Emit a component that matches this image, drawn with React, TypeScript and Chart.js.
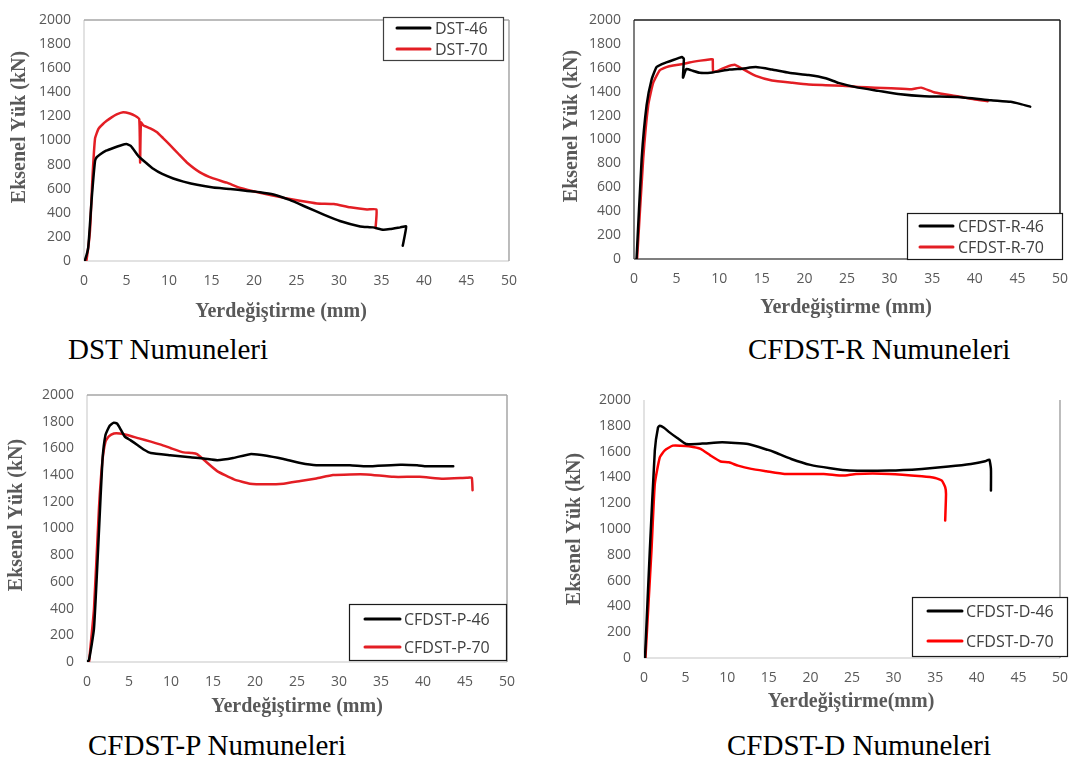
import React, { useEffect, useRef } from 'react';
import { Chart, registerables } from 'chart.js';

Chart.register(...registerables);

// ---------- tick values ----------
const xTickValues = [0, 5, 10, 15, 20, 25, 30, 35, 40, 45, 50];
const yTickValues = [0, 200, 400, 600, 800, 1000, 1200, 1400, 1600, 1800, 2000];

// ---------- DST ----------
const dst46X = [0, 0.12, 0.5, 0.9, 1.3, 1.5, 1.88, 2.6, 3.45, 4.3, 5.0, 5.5, 6.4, 7.3, 8.15, 9.2, 10.5, 11.7, 13.3, 15.2, 17.2, 19.0, 20.7, 22.3, 24.2, 26.2, 28.2, 30.1, 32.5, 34.0, 35.2, 36.0, 37.2, 37.9, 37.5];
const dst46Y = [0, 8, 114, 512, 831, 862, 884, 915, 938, 958, 970, 955, 871, 815, 765, 722, 685, 659, 632, 610, 598, 583, 571, 552, 507, 446, 385, 332, 287, 279, 260, 265, 279, 287, 127];
const dst70X = [0.2, 0.3, 0.7, 1.0, 1.3, 1.7, 2.2, 2.67, 3.2, 3.84, 4.6, 5.4, 6.0, 6.5, 6.6, 6.7, 7.0, 7.8, 8.55, 9.3, 10.1, 11.1, 12.1, 13.6, 15.2, 16.8, 18.4, 20.7, 23.4, 25.4, 27.4, 29.4, 31.3, 33.3, 34.4, 34.3];
const dst70Y = [0, 8, 247, 699, 1017, 1097, 1135, 1163, 1190, 1217, 1235, 1224, 1205, 1177, 818, 1150, 1124, 1100, 1070, 1020, 964, 890, 818, 738, 685, 650, 606, 566, 526, 500, 478, 473, 446, 428, 428, 273];

// ---------- CFDST-R ----------
const r46X = [0.3, 0.9, 1.48, 2.06, 2.64, 3.2, 3.8, 4.6, 5.36, 5.6, 5.85, 5.75, 6.14, 6.9, 7.7, 9.2, 11.2, 12.7, 14.3, 16.2, 18.2, 20.5, 22.5, 24.0, 26.3, 28.7, 31.0, 34.1, 38.0, 41.9, 44.2, 45.4, 46.5];
const r46Y = [0, 839, 1288, 1500, 1606, 1628, 1645, 1665, 1685, 1690, 1675, 1518, 1590, 1575, 1558, 1561, 1585, 1593, 1606, 1585, 1558, 1540, 1513, 1474, 1434, 1407, 1381, 1362, 1355, 1328, 1315, 1296, 1275];
const r70X = [0.36, 1.08, 1.67, 2.25, 3.03, 3.8, 4.6, 5.75, 6.5, 7.8, 9.05, 9.24, 9.3, 10.0, 10.8, 11.8, 12.7, 14.3, 16.2, 18.6, 20.5, 22.5, 24.5, 26.3, 28.3, 30.2, 32.6, 33.7, 35.3, 38.0, 39.9, 41.5];
const r70Y = [0, 839, 1288, 1474, 1579, 1606, 1620, 1632, 1645, 1660, 1672, 1672, 1566, 1580, 1606, 1625, 1593, 1532, 1494, 1474, 1460, 1455, 1450, 1440, 1434, 1429, 1421, 1434, 1394, 1362, 1336, 1320];

// ---------- CFDST-P ----------
const p46X = [0, 0.24, 0.83, 1.43, 1.83, 2.2, 2.7, 3.2, 3.6, 3.9, 4.5, 5.2, 6.0, 6.8, 7.6, 9.9, 12.3, 13.9, 15.5, 17.4, 19.4, 21.4, 23.4, 25.4, 27.3, 31.3, 33.3, 37.3, 39.3, 40.4, 43.6];
const p46Y = [0, 15, 249, 986, 1503, 1700, 1770, 1793, 1785, 1754, 1688, 1660, 1626, 1590, 1565, 1548, 1533, 1525, 1512, 1528, 1557, 1545, 1520, 1491, 1474, 1474, 1466, 1478, 1474, 1466, 1466];
const p70X = [0.24, 0.83, 1.43, 1.83, 2.2, 2.6, 3.2, 3.9, 4.8, 6.2, 7.6, 8.8, 10.0, 11.5, 12.5, 13.1, 13.9, 15.5, 17.5, 19.4, 21.4, 23.4, 25.4, 27.3, 29.3, 31.3, 33.3, 36.5, 39.6, 42.4, 45.2, 45.8, 45.9];
const p70Y = [0, 396, 1159, 1503, 1651, 1690, 1712, 1712, 1700, 1675, 1651, 1628, 1601, 1570, 1565, 1557, 1515, 1430, 1368, 1336, 1331, 1336, 1356, 1375, 1400, 1405, 1405, 1387, 1387, 1373, 1380, 1380, 1287];

// ---------- CFDST-D ----------
const d46X = [0.12, 0.7, 1.3, 1.69, 1.9, 2.4, 3.07, 4.0, 5.05, 7.0, 9.4, 12.5, 14.9, 15.7, 17.7, 20.0, 22.4, 24.7, 29.5, 33.4, 36.6, 39.3, 41.0, 41.5, 41.7, 41.7];
const d46Y = [0, 834, 1608, 1788, 1801, 1785, 1749, 1705, 1659, 1662, 1672, 1659, 1613, 1595, 1543, 1497, 1471, 1453, 1453, 1466, 1484, 1504, 1525, 1538, 1466, 1298];
const d70X = [0.17, 0.9, 1.3, 1.9, 2.5, 3.46, 4.4, 5.4, 6.8, 8.0, 9.2, 10.2, 11.3, 12.9, 14.7, 16.9, 21.6, 23.9, 25.5, 29.5, 33.4, 35.0, 35.8, 36.2, 36.3, 36.2];
const d70Y = [0, 834, 1350, 1556, 1610, 1646, 1646, 1641, 1621, 1569, 1523, 1517, 1491, 1466, 1448, 1427, 1427, 1414, 1427, 1427, 1409, 1396, 1375, 1324, 1272, 1066];

const yTitle = 'Eksenel Yük (kN)';

type Series = { label: string; x: number[]; y: number[]; color: string };
type Side = string | null;
type PanelCfg = {
  left: number; top: number; w: number; h: number;
  padTop: number; padRight: number; yWidth: number; xHeight: number;
  series: Series[];
  xTitle: string;
  yTitlePos: [number, number];
  xTitlePos: [number, number];
  frame: { top: Side; right: Side; bottom: Side; left: Side; width: number };
  legend: { x: number; y: number; w: number; h: number; l1: number; l2: number; tx: number; rows: number[]; border: string };
};

const BLACK = '#000000';
const RED = '#e31e24';

const panels: PanelCfg[] = [
  {
    left: 0, top: 0, w: 530, h: 330, padTop: 10, padRight: 21, yWidth: 84, xHeight: 69,
    series: [
      { label: 'DST-46', x: dst46X, y: dst46Y, color: BLACK },
      { label: 'DST-70', x: dst70X, y: dst70Y, color: RED },
    ],
    xTitle: 'Yerdeğiştirme (mm)', yTitlePos: [20, 127], xTitlePos: [281, 312],
    frame: { top: '#a6a6a6', right: '#a6a6a6', bottom: '#d9d9d9', left: '#d9d9d9', width: 1.5 },
    legend: { x: 383, y: 17, w: 120, h: 43, l1: 397, l2: 430, tx: 435, rows: [28, 49], border: '#404040' },
  },
  {
    left: 550, top: 0, w: 531, h: 330, padTop: 7, padRight: 18, yWidth: 84, xHeight: 71,
    series: [
      { label: 'CFDST-R-46', x: r46X, y: r46Y, color: BLACK },
      { label: 'CFDST-R-70', x: r70X, y: r70Y, color: RED },
    ],
    xTitle: 'Yerdeğiştirme (mm)', yTitlePos: [22, 126], xTitlePos: [296, 308],
    frame: { top: '#1a1a1a', right: '#1a1a1a', bottom: '#555555', left: '#555555', width: 1.5 },
    legend: { x: 357, y: 213, w: 155, h: 46, l1: 370, l2: 403, tx: 408, rows: [226, 247], border: '#1a1a1a' },
  },
  {
    left: 0, top: 375, w: 530, h: 350, padTop: 16, padRight: 23, yWidth: 87, xHeight: 63,
    series: [
      { label: 'CFDST-P-46', x: p46X, y: p46Y, color: BLACK },
      { label: 'CFDST-P-70', x: p70X, y: p70Y, color: RED },
    ],
    xTitle: 'Yerdeğiştirme (mm)', yTitlePos: [17, 140], xTitlePos: [297, 332],
    frame: { top: '#a6a6a6', right: '#a6a6a6', bottom: '#d9d9d9', left: '#d9d9d9', width: 1.5 },
    legend: { x: 349, y: 229, w: 157, h: 56, l1: 365, l2: 400, tx: 404, rows: [244, 272], border: '#1a1a1a' },
  },
  {
    left: 550, top: 380, w: 531, h: 345, padTop: 19, padRight: 14, yWidth: 94, xHeight: 67,
    series: [
      { label: 'CFDST-D-46', x: d46X, y: d46Y, color: BLACK },
      { label: 'CFDST-D-70', x: d70X, y: d70Y, color: '#ff0000' },
    ],
    xTitle: 'Yerdeğiştirme(mm)', yTitlePos: [25, 149], xTitlePos: [301, 322],
    frame: { top: null, right: '#a6a6a6', bottom: '#d9d9d9', left: '#d9d9d9', width: 1.5 },
    legend: { x: 362, y: 217, w: 155, h: 59, l1: 378, l2: 412, tx: 416, rows: [231, 261], border: '#1a1a1a' },
  },
];

const captions = [
  { text: 'DST Numuneleri', left: 68, top: 335 },
  { text: 'CFDST-R Numuneleri', left: 748, top: 335 },
  { text: 'CFDST-P Numuneleri', left: 88, top: 731 },
  { text: 'CFDST-D Numuneleri', left: 727, top: 731 },
];

const tickFont = { family: "'Open Sans', 'DejaVu Sans', sans-serif", size: 14, lineHeight: 1 };
const tickColor = '#595959';
const plainLabel = (v: any) => String(v);

function PanelChart({ cfg }: { cfg: PanelCfg }) {
  const ref = useRef<HTMLCanvasElement>(null);
  useEffect(() => {
    const frame = {
      id: 'plotFrame',
      beforeDatasetsDraw(chart: any) {
        const { ctx, chartArea: a } = chart;
        const f = cfg.frame;
        ctx.save();
        ctx.lineWidth = f.width;
        const seg = (c: Side, x1: number, y1: number, x2: number, y2: number) => {
          if (!c) return;
          ctx.strokeStyle = c;
          ctx.beginPath();
          ctx.moveTo(x1, y1);
          ctx.lineTo(x2, y2);
          ctx.stroke();
        };
        seg(f.left, a.left, a.top, a.left, a.bottom);
        seg(f.bottom, a.left, a.bottom, a.right, a.bottom);
        seg(f.top, a.left, a.top, a.right, a.top);
        seg(f.right, a.right, a.top, a.right, a.bottom);
        ctx.restore();
      },
    };
    const boxLegend = {
      id: 'boxLegend',
      afterDraw(chart: any) {
        const { ctx } = chart;
        const L = cfg.legend;
        ctx.save();
        ctx.fillStyle = '#ffffff';
        ctx.fillRect(L.x, L.y, L.w, L.h);
        ctx.strokeStyle = L.border;
        ctx.lineWidth = 1.2;
        ctx.strokeRect(L.x + 0.5, L.y + 0.5, L.w, L.h);
        chart.data.datasets.forEach((ds: any, i: number) => {
          const y = L.rows[i];
          ctx.strokeStyle = ds.borderColor;
          ctx.lineWidth = 3;
          ctx.lineCap = 'round';
          ctx.beginPath();
          ctx.moveTo(L.l1, y);
          ctx.lineTo(L.l2, y);
          ctx.stroke();
          ctx.fillStyle = '#404040';
          ctx.font = "16px 'Open Sans', sans-serif";
          ctx.textAlign = 'left';
          ctx.textBaseline = 'middle';
          ctx.fillText(ds.label, L.tx, y + 1);
        });
        ctx.restore();
      },
    };
    const axisTitles = {
      id: 'axisTitles',
      afterDraw(chart: any) {
        const { ctx } = chart;
        ctx.save();
        ctx.fillStyle = '#595959';
        ctx.font = "bold 20px 'Liberation Serif', 'Times New Roman', serif";
        ctx.textAlign = 'center';
        ctx.textBaseline = 'middle';
        ctx.fillText(cfg.xTitle, cfg.xTitlePos[0], cfg.xTitlePos[1]);
        ctx.translate(cfg.yTitlePos[0], cfg.yTitlePos[1]);
        ctx.rotate(-Math.PI / 2);
        ctx.fillText(yTitle, 0, 0);
        ctx.restore();
      },
    };

    const chart = new Chart(ref.current as HTMLCanvasElement, {
      type: 'line',
      data: {
        datasets: cfg.series.map((s) => ({
          label: s.label,
          data: s.x.map((x, i) => ({ x, y: s.y[i] })),
          borderColor: s.color,
          backgroundColor: s.color,
          borderWidth: 2.5,
          pointRadius: 0,
          pointHoverRadius: 0,
          tension: 0.15,
          fill: false,
          borderJoinStyle: 'round',
          borderCapStyle: 'round',
        })),
      },
      options: {
        responsive: false,
        animation: false,
        devicePixelRatio: 1,
        events: [],
        layout: { padding: { top: cfg.padTop, right: cfg.padRight, left: 0, bottom: 0 } },
        plugins: {
          legend: { display: false },
          tooltip: { enabled: false },
          title: { display: false },
        },
        scales: {
          x: {
            type: 'linear',
            min: 0,
            max: 50,
            afterBuildTicks: (axis: any) => { axis.ticks = xTickValues.map((value) => ({ value })); },
            afterFit: (axis: any) => { axis.height = cfg.xHeight; },
            grid: { display: false, drawTicks: false },
            border: { display: false },
            ticks: { padding: 13, font: tickFont, color: tickColor, maxRotation: 0, autoSkip: false, callback: plainLabel },
          },
          y: {
            type: 'linear',
            min: 0,
            max: 2000,
            afterBuildTicks: (axis: any) => { axis.ticks = yTickValues.map((value) => ({ value })); },
            afterFit: (axis: any) => { axis.width = cfg.yWidth; },
            grid: { display: false, drawTicks: false },
            border: { display: false },
            ticks: { padding: 13, font: tickFont, color: tickColor, autoSkip: false, callback: plainLabel },
          },
        },
      } as any,
      plugins: [frame, boxLegend, axisTitles],
    });
    return () => chart.destroy();
  }, [cfg]);
  return (
    <canvas
      ref={ref}
      width={cfg.w}
      height={cfg.h}
      style={{ position: 'absolute', left: cfg.left, top: cfg.top, width: cfg.w, height: cfg.h }}
    />
  );
}

export default function App() {
  return (
    <div style={{ position: 'absolute', left: 0, top: 0, width: 1081, height: 765, background: '#ffffff', overflow: 'hidden' }}>
      {panels.map((p, i) => (
        <PanelChart key={i} cfg={p} />
      ))}
      {captions.map((c, i) => (
        <div
          key={i}
          style={{
            position: 'absolute',
            left: c.left,
            top: c.top,
            fontFamily: "'Liberation Serif', 'Times New Roman', serif",
            fontSize: 29,
            lineHeight: '29px',
            color: '#000000',
            whiteSpace: 'nowrap',
          }}
        >
          {c.text}
        </div>
      ))}
    </div>
  );
}
